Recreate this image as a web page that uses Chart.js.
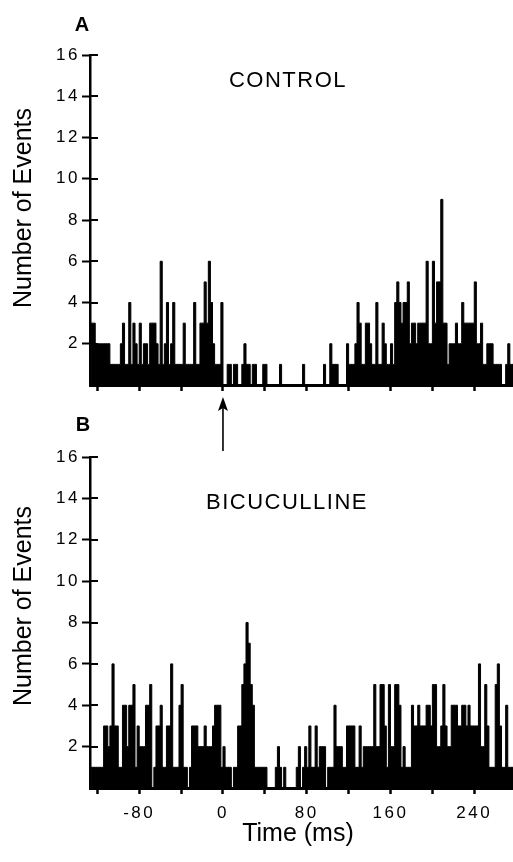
<!DOCTYPE html>
<html>
<head>
<meta charset="utf-8">
<title>Control vs bicuculline histograms</title>
<script src="https://cdn.jsdelivr.net/npm/chart.js@4.4.1/dist/chart.umd.min.js"></script>
<style>
  html, body { margin: 0; padding: 0; background: #fff; }
  body { width: 513px; height: 862px; position: relative; overflow: hidden;
         font-family: "Liberation Sans", Arial, Helvetica, sans-serif; color: #000; }
  canvas { position: absolute; left: 0; }
  #chartA { top: 0; }
  #chartB { top: 440px; }
  .lbl { position: absolute; white-space: nowrap; line-height: 1; transform: translate(-50%, -50%); }
  .panel { font-weight: bold; font-size: 20px; }
  .cond { font-size: 22px; letter-spacing: 1.5px; }
  .ytitle { font-size: 25px; transform: translate(-50%, -50%) rotate(-90deg); }
  .xtitle { font-size: 25px; }
</style>
</head>
<body>
<canvas id="chartA" width="513" height="455"></canvas>
<canvas id="chartB" width="513" height="422"></canvas>

<div class="lbl panel" style="left:82px; top:24px;">A</div>
<div class="lbl cond" style="left:288px; top:80px;">CONTROL</div>
<div class="lbl ytitle" style="left:22px; top:208px;">Number of Events</div>

<div class="lbl panel" style="left:83px; top:424px;">B</div>
<div class="lbl cond" style="left:287px; top:502px;">BICUCULLINE</div>
<div class="lbl ytitle" style="left:22px; top:606px;">Number of Events</div>

<div class="lbl xtitle" style="left:298px; top:832px;">Time (ms)</div>

<script>
// histogram bins: 2 ms wide, first bin starts at -126 ms
const binStartMs = -126;
const binWidthMs = 2;

// counts per bin, rows of 10 bins (20 ms)
const controlCounts = [
  3,3,2,2,2,2,2,2,2,1,
  1,1,1,1,2,3,1,1,4,1,
  3,2,1,3,1,2,2,1,3,3,
  3,2,1,6,1,2,4,1,2,4,
  1,1,1,1,3,1,1,1,1,4,
  1,1,3,3,5,3,6,4,2,1,
  1,1,4,0,0,1,1,0,1,1,
  0,0,1,2,1,1,0,1,1,0,
  0,0,1,1,0,0,0,0,0,0,
  1,0,0,0,0,0,0,0,0,0,
  0,1,0,0,0,0,0,0,0,0,
  0,1,0,0,2,1,1,1,0,0,
  0,0,2,1,1,1,2,4,3,1,
  1,3,3,2,1,1,4,1,1,3,
  2,1,1,2,1,4,5,4,3,4,
  4,5,2,3,3,2,3,3,3,3,
  6,2,2,6,3,5,5,9,3,3,
  1,2,2,2,3,2,2,4,3,3,
  3,3,3,5,2,2,3,1,1,2,
  2,2,1,1,1,1,0,0,1,2,
  1,1
];

const bicucullineCounts = [
  1,1,1,1,1,1,3,3,2,3,
  6,3,3,1,1,4,4,2,4,4,
  5,1,3,2,2,2,4,4,5,0,
  1,3,3,4,1,1,3,3,6,1,
  1,1,4,5,1,1,0,1,3,3,
  3,2,2,2,3,2,2,2,3,4,
  4,4,1,2,1,1,1,0,1,1,
  3,3,5,6,8,7,5,4,1,1,
  1,1,1,1,0,0,0,0,1,2,
  1,0,1,0,0,0,0,0,1,2,
  0,1,2,1,3,1,1,3,1,2,
  2,2,0,1,1,1,4,2,2,2,
  1,1,3,3,3,3,1,1,3,1,
  2,2,2,2,2,5,2,2,5,5,
  3,1,5,2,2,5,5,4,1,2,
  1,1,1,4,3,3,4,3,3,3,
  4,4,3,5,5,2,2,3,5,3,
  2,2,4,4,4,3,3,4,4,3,
  4,3,3,3,3,6,2,2,5,3,
  1,1,1,5,6,3,1,1,4,1,
  1,1
];

const yTickLabels = [2, 4, 6, 8, 10, 12, 14, 16];
const xTickLabels = [-80, 0, 80, 160, 240];
const xMin = -127, xMax = 277;

const binTimes = controlCounts.map((_, i) => binStartMs + i * binWidthMs);

function toSteps(counts) {
  const pts = binTimes.map((t, i) => ({ x: t, y: counts[i] }));
  // close the last bin at its right edge
  pts.push({ x: binTimes[binTimes.length - 1] + binWidthMs, y: counts[counts.length - 1] });
  return pts;
}

const fontFamily = '"Liberation Sans", Arial, Helvetica, sans-serif';

// tick labels in the figure are set with wide letter spacing
const spacedText = {
  id: 'spacedText',
  beforeDraw(chart) { chart.ctx.letterSpacing = '2.5px'; }
};

// y ticks cross the axis on both sides
const crossTicks = {
  id: 'crossTicks',
  afterDraw(chart) {
    const y = chart.scales.y;
    const ctx = chart.ctx;
    const left = chart.chartArea.left;
    ctx.save();
    ctx.strokeStyle = '#000';
    ctx.lineWidth = 2;
    y.ticks.forEach(t => {
      if (!t.value) return;
      const py = Math.round(y.getPixelForValue(t.value));
      ctx.beginPath();
      ctx.moveTo(left, py);
      ctx.lineTo(left + 8, py);
      ctx.stroke();
    });
    ctx.restore();
  }
};

// stimulus marker under panel A at t = 0
const stimArrow = {
  id: 'stimArrow',
  afterDraw(chart) {
    const ctx = chart.ctx;
    const x = chart.scales.x.getPixelForValue(0);
    const top = chart.chartArea.bottom + 12;
    const bottom = chart.chartArea.bottom + 66;
    ctx.save();
    ctx.strokeStyle = '#000';
    ctx.fillStyle = '#000';
    ctx.lineWidth = 1.6;
    ctx.beginPath();
    ctx.moveTo(x, top + 8);
    ctx.lineTo(x, bottom);
    ctx.stroke();
    ctx.beginPath();
    ctx.moveTo(x, top);
    ctx.lineTo(x - 5, top + 14);
    ctx.lineTo(x, top + 11);
    ctx.lineTo(x + 5, top + 14);
    ctx.closePath();
    ctx.fill();
    ctx.restore();
  }
};

function makePanel(id, counts, showLabels, plotTop, plotBottom, extra) {
  const canvas = document.getElementById(id);
  return new Chart(canvas, {
    type: 'line',
    data: {
      datasets: [{
        data: toSteps(counts),
        stepped: true,
        fill: 'origin',
        backgroundColor: '#000',
        borderColor: '#000',
        borderWidth: 1,
        pointRadius: 0
      }]
    },
    options: {
      responsive: false,
      animation: false,
      events: [],
      layout: { padding: { top: plotTop, left: 0, right: 0, bottom: 0 } },
      plugins: { legend: { display: false }, tooltip: { enabled: false } },
      scales: {
        x: {
          type: 'linear',
          min: xMin,
          max: xMax,
          afterFit: s => { s.height = canvas.height - plotBottom; },
          border: { display: true, color: '#000', width: 3 },
          grid: { drawOnChartArea: false, tickLength: 6, tickWidth: 2.5, tickColor: '#000', color: '#000' },
          ticks: {
            stepSize: 40,
            includeBounds: false,
            autoSkip: false,
            maxRotation: 0,
            padding: 9,
            color: '#000',
            font: { family: fontFamily, size: 17 },
            callback: v => (showLabels && xTickLabels.includes(v)) ? String(v) : ''
          }
        },
        y: {
          min: 0,
          max: 16,
          afterFit: s => { s.width = 90; },
          border: { display: true, color: '#000', width: 2.5 },
          grid: {
            drawOnChartArea: false,
            tickLength: 8,
            tickWidth: 2,
            tickColor: c => (c.tick && c.tick.value === 0) ? 'rgba(0,0,0,0)' : '#000'
          },
          ticks: {
            stepSize: 2,
            padding: 2,
            color: '#000',
            font: { family: fontFamily, size: 17 },
            callback: v => yTickLabels.includes(v) ? String(v) : ''
          }
        }
      }
    },
    plugins: [spacedText, crossTicks].concat(extra)
  });
}

makePanel('chartA', controlCounts, false, 55, 385, [stimArrow]);
makePanel('chartB', bicucullineCounts, true, 17, 348, []);
</script>
</body>
</html>
